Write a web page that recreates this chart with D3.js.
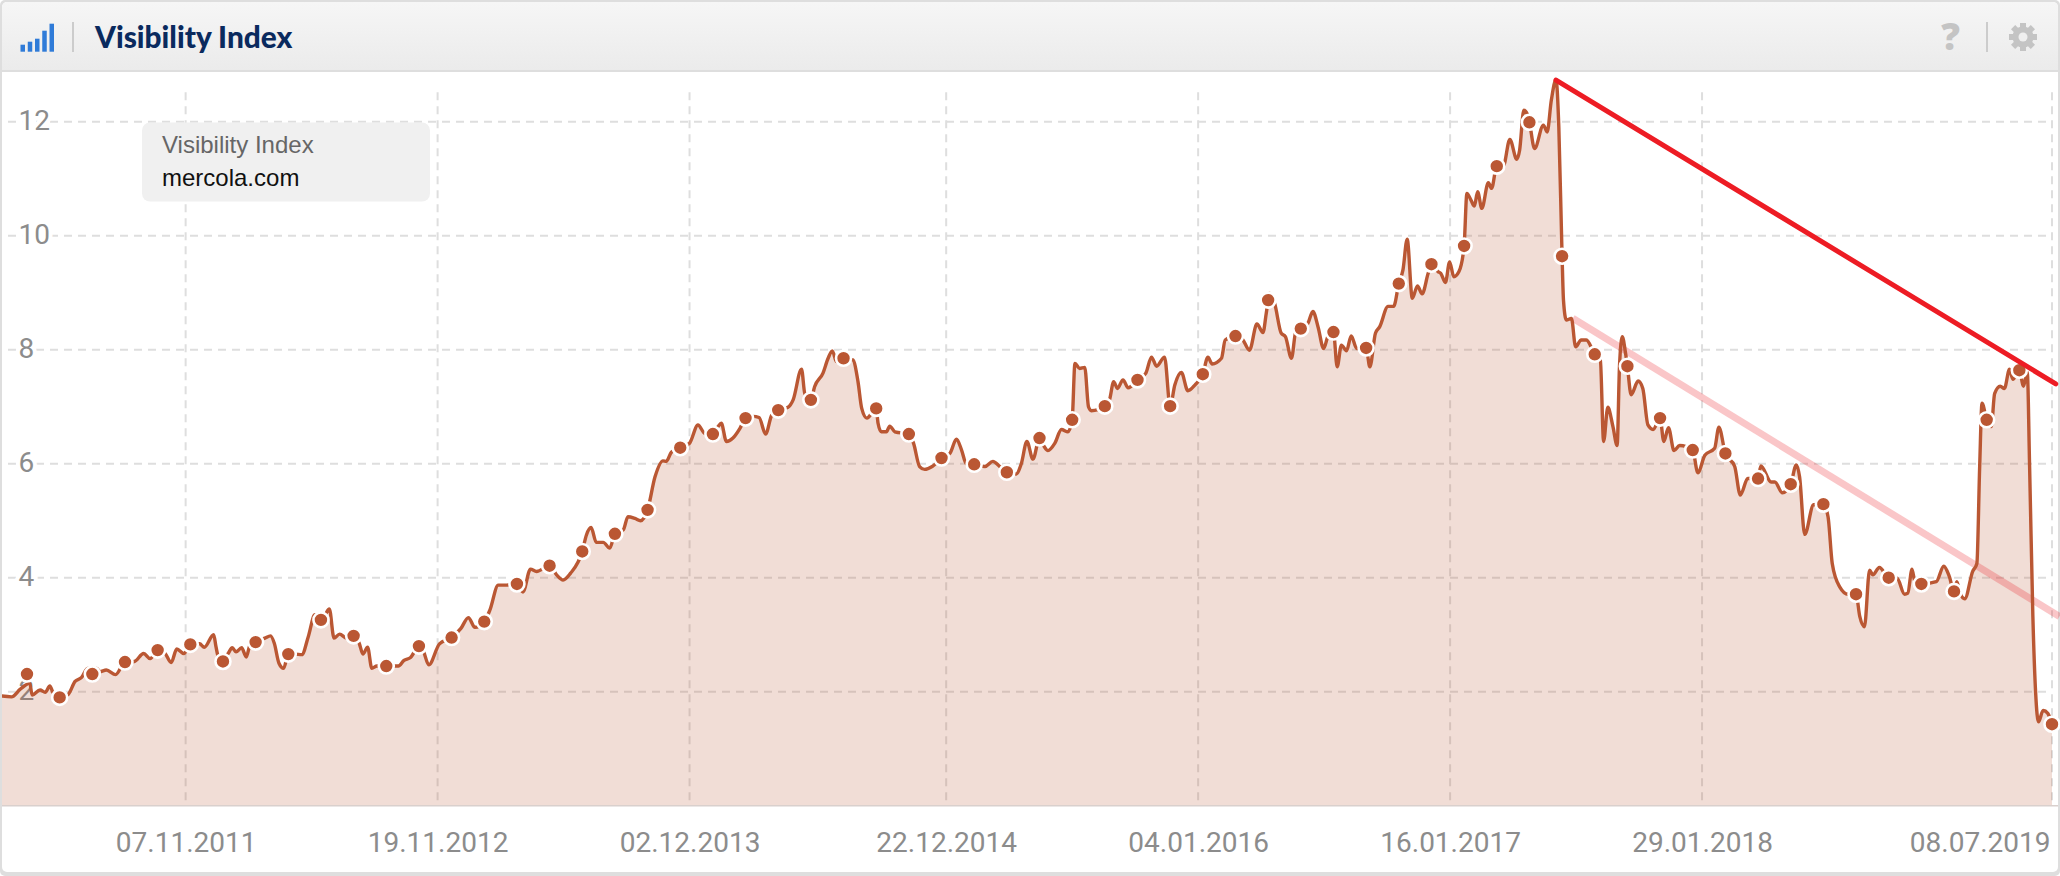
<!DOCTYPE html>
<html>
<head>
<meta charset="utf-8">
<title>Visibility Index</title>
<script src="https://cdn.jsdelivr.net/npm/d3@7"></script>
<style>
    html, body { margin: 0; padding: 0; background: #fff; }
    svg { display: block; }
</style>
</head>
<body>
<div id="chart"></div>
<script>
// weeks are counted from the first date tick (07.11.2011)
const startDate = new Date(2011, 10, 7);
const tickLabels = ["2011-11-07","2012-11-19","2013-12-02","2014-12-22","2016-01-04","2017-01-16","2018-01-29","2019-07-08"];
const yTicks = [2,4,6,8,10,12];

const lineWeeks = [-40,-37.3,-35.5,-34.6,-33.4,-32.9,-31.2,-30.1,-29.1,-28.4,-27,-25.2,-23.7,-22.3,-21,-19,-18.4,-17,-15,-13,-11,-9,-7.6,-6,-4.4,-3.1,-1.9,-0.4,1,3,4,6,6.5,7,8,9.1,10,10.8,12,13,13.8,15,17,18.2,19,20,21,22,23.4,24.9,26.3,27.7,29,29.9,30.8,31.8,33,34.5,36,37.2,38,39,39.9,41,43,45.6,46.8,48.2,50,51,52.1,54.4,57,59,60.6,62,64,65.2,67,68.8,71,
    72.3,73.9,75.2,78,79.5,80.9,82.5,85,85.9,86.9,88,89.5,90.9,92,93.8,94.8,96.3,97.5,99,100.6,102.3,103,104.1,106,108,109.8,111.3,113,114.1,114.8,115.9,117.3,118.8,120,121.6,122.9,124.3,125.6,127,129.1,130.2,132,132.7,134,134.8,136.6,137.7,138.6,139.5,141,143,144.1,144.9,146,148,148.4,149.1,150.2,150.9,152,155,156,157.3,158.4,160,162,163.8,165.2,166.3,167.3,169,171.3,173,174.5,176,178,179.1,180.3,181.6,183,
    184,184.8,186.3,187.7,189.1,190,190.6,191.6,192.7,193.5,194.1,197,198,198.9,199.7,200.9,202,204,205.8,207,208.1,209.8,211,212,213.4,214.8,216.3,218,219.1,220,222,222.8,225,226.6,228,229.6,230.9,231.6,232.3,233.4,234.8,235.7,237,238,239,240.5,241.6,242.7,243.9,244.8,246,246.8,247.7,248.8,249.8,251,253,253.8,255,255.9,257.7,258.9,260,260.9,261.8,262.9,264,265,266.3,267,268.4,269,270,270.9,271.8,272.9,274,
    274.6,275.5,276.2,276.9,277.8,279.2,279.9,281,282.4,283.8,285.3,285.9,286.8,287.5,288,289.1,291,291.8,292.7,293.7,294.3,295,295.3,295.9,297,297.9,299.1,300.2,302,303.2,303.9,304.8,305.9,306.8,307.3,307.9,308.6,309,309.8,311.3,312.3,313.4,314.5,316,316.8,317.8,319,320.2,323,324.1,325.6,327.7,328.6,330,332,333.2,334.8,337,337.6,339.8,340.6,342.2,344,345.2,345.9,347,348.9,351,352,352.9,354.5,356.3,358,358.8,359.8,360.9,361.6,363,365,366.8,368.4,369.1,370,370.7,372,375.2,376.8,378,379,379.6,380.3,381.3,383,383.9,384.5,385,386,387,387.7,388.9,389.8,390.9,391.6,393,393.9,394.7,395.2,395.9,396.5,397.1,398.1,399.1,400];
const lineValues = [1.93,1.91,2.04,2.10,2.15,1.94,2.03,1.99,2.10,1.98,1.90,1.95,2.18,2.25,2.41,2.41,2.35,2.38,2.30,2.52,2.53,2.67,2.58,2.73,2.67,2.51,2.75,2.67,2.83,2.84,2.78,3.0,2.79,2.61,2.53,2.67,2.77,2.70,2.77,2.61,2.82,2.87,2.94,2.98,2.85,2.5,2.41,2.66,2.66,2.65,2.97,3.35,3.26,3.35,3.45,2.94,3.01,2.94,2.98,2.85,2.66,2.78,2.41,2.45,2.45,2.45,2.55,2.60,2.80,2.70,2.47,2.84,2.95,3.11,3.30,3.13,3.23,3.43,3.87,3.87,3.89,
    3.75,4.15,4.11,4.21,4.05,3.96,4.08,4.46,4.75,4.88,4.62,4.62,4.52,4.77,4.84,5.07,5.04,5.0,5.19,5.77,6.05,6.04,6.2,6.28,6.36,6.68,6.53,6.52,6.65,6.71,6.39,6.45,6.62,6.80,6.83,6.81,6.52,6.85,6.94,6.99,7.12,7.66,7.23,7.12,7.35,7.59,7.85,7.98,7.79,7.85,7.82,7.44,6.97,6.8,6.97,6.71,6.56,6.56,6.66,6.56,6.52,6.36,5.95,5.90,5.95,6.10,6.18,6.43,6.24,6.0,5.99,5.95,6.04,5.95,5.85,5.82,6.0,6.39,6.08,6.45,
    6.3,6.23,6.36,6.6,6.56,6.77,7.76,7.67,7.69,7.0,6.93,7.01,7.12,7.44,7.32,7.47,7.33,7.47,7.59,7.87,7.71,7.87,7.01,7.38,7.6,7.28,7.38,7.57,7.87,7.75,7.85,8.17,8.24,8.17,7.99,8.45,8.30,8.64,8.99,8.81,8.29,8.23,7.85,8.35,8.37,8.46,8.67,8.40,8.02,8.23,8.31,7.70,8.08,7.98,8.24,8.02,8.03,7.70,8.29,8.40,8.76,8.76,9.16,9.40,9.94,8.90,9.12,8.98,9.34,9.50,9.37,9.34,9.18,9.54,9.28,9.37,9.82,
    10.74,10.62,10.52,10.77,10.48,10.93,10.83,11.22,11.22,11.69,11.34,11.5,12.2,12.14,11.99,11.53,11.94,11.82,12.38,12.74,11.91,9.64,8.87,8.52,8.55,8.05,8.17,8.17,7.92,7.82,6.39,6.99,6.65,6.32,7.7,8.23,7.94,7.71,7.21,7.45,7.32,6.68,6.60,6.80,6.39,6.63,6.23,6.32,6.24,5.84,6.15,6.27,6.64,6.18,5.95,5.45,5.74,5.74,5.96,5.68,5.68,5.49,5.64,5.98,5.77,4.76,5.28,5.29,5.07,4.25,3.84,3.71,3.71,3.32,3.14,4.13,4.05,4.18,4.0,3.99,3.71,3.73,4.15,3.90,3.89,3.93,4.2,4.02,3.76,3.93,3.73,3.63,4.11,4.25,5.95,7.06,6.77,6.65,7.23,7.36,7.32,7.66,7.48,7.64,7.36,7.61,5.95,3.32,1.97,1.47,1.67,1.62,1.43];

const dotWeeks = [-34,-27,-20,-13,-6,1,8,15,22,29,36,43,50,57,64,71,78,85,92,99,106,113,120,127,134,141,148,155,162,169,176,183,190,197,204,211,218,225,232,239,246,253,260,267,274,281,288,295,302,309,316,323,330,337,344,351,358,365,372,379,386,393,400];
const dotValues = [2.31,1.90,2.31,2.52,2.73,2.83,2.53,2.87,2.66,3.26,2.98,2.45,2.80,2.95,3.23,3.89,4.21,4.46,4.77,5.19,6.28,6.52,6.80,6.94,7.12,7.85,6.97,6.52,6.10,5.99,5.85,6.45,6.77,7.01,7.47,7.01,7.57,8.24,8.87,8.37,8.31,8.03,9.16,9.50,9.82,11.22,11.99,9.64,7.92,7.71,6.80,6.24,6.18,5.74,5.64,5.29,3.71,4.0,3.89,3.76,6.77,7.64,1.43];

// the two drawn trend lines
const trendWeeks = [293.7,400.8];
const trendValues = [12.73,7.40];
const paleTrendWeeks = [297.3,401.6];
const paleTrendValues = [8.55,3.32];

const signalBars = [7,10,13,21,28];

function weekToDate(w){
    return new Date(+startDate + w*7*86400000);
}

function getConfiguration(){
    let width = 2060;
    let height = 876;
    let plot = { left: 2, right: 2052, top: 93.2, bottom: 805.7 };
    let svg = d3.select("#chart")
                .append("svg")
                .attr("width", width)
                .attr("height", height);
    return { width, height, plot, svg };
}

function getScales(config){
    let { plot } = config;
    let xScale = d3.scaleTime()
        .domain([weekToDate(-40), weekToDate(400)])
        .range([-1, plot.right]);
    let yScale = d3.scaleLinear()
        .domain([0, 12.5])
        .range([plot.bottom, plot.top]);
    return { xScale, yScale };
}

function drawFrame(config){
    let { svg, width, height } = config;
    let grad = svg.append("defs").append("linearGradient")
        .attr("id", "headerFill")
        .attr("x1", 0).attr("x2", 0).attr("y1", 0).attr("y2", 1);
    grad.append("stop").attr("offset", "0%").attr("stop-color", "#f6f6f6");
    grad.append("stop").attr("offset", "100%").attr("stop-color", "#ebebeb");

    svg.append("rect").attr("width", width).attr("height", height).attr("rx", 5).attr("fill", "#dedede");
    svg.append("rect").attr("x", 2).attr("y", 2).attr("width", width-4).attr("height", height-6).attr("rx", 5).attr("fill", "#fff");
    svg.append("path")
        .attr("d", "M2,70V7a5,5 0 0 1 5,-5H2053a5,5 0 0 1 5,5V70Z")
        .attr("fill", "url(#headerFill)");
    svg.append("rect").attr("x", 2).attr("y", 70).attr("width", width-4).attr("height", 2).attr("fill", "#dedede");
}

function drawHeader(config){
    let { svg } = config;
    let barScale = d3.scaleBand().domain(d3.range(signalBars.length)).range([20.5, 54]).paddingInner(0.38);
    svg.append("g").selectAll("rect")
        .data(signalBars)
        .join("rect")
        .attr("x", (d,i) => barScale(i))
        .attr("y", d => 51.7-d)
        .attr("width", barScale.bandwidth())
        .attr("height", d => d)
        .attr("fill", "#2f7bd8");

    [73, 1987].forEach(x => {
        svg.append("rect").attr("x", x-1).attr("y", 22).attr("width", 2).attr("height", 30).attr("fill", "#cccccc");
    });

    svg.append("text")
        .attr("x", 95)
        .attr("y", 47.5)
        .text("Visibility Index")
        .style("font-family", "Lato")
        .style("font-weight", 900)
        .style("font-size", "29.8px")
        .style("fill", "#0a2a5e");

    svg.append("text")
        .attr("x", 1950.5)
        .attr("y", 50)
        .attr("text-anchor", "middle")
        .text("?")
        .style("font-family", "Open Sans")
        .style("font-weight", 800)
        .style("font-size", "37px")
        .style("fill", "#c4c4c4");

    let gear = svg.append("g").attr("transform", "translate(2023,37)");
    d3.range(8).forEach(i => {
        gear.append("rect")
            .attr("x", -3).attr("y", -14)
            .attr("width", 6).attr("height", 6)
            .attr("transform", "rotate("+(i*45)+")")
            .attr("fill", "#c4c4c4");
    });
    gear.append("circle").attr("r", 10.5).attr("fill", "#c4c4c4");
    gear.append("circle").attr("r", 4.5).attr("fill", "#efefef");
}

function drawChart(scales, config){
    let { svg, plot } = config;
    let { xScale, yScale } = scales;
    let tickDates = tickLabels.map(d => d3.timeParse("%Y-%m-%d")(d));

    let clip = svg.select("defs").append("clipPath").attr("id", "plotClip");
    clip.append("rect")
        .attr("x", plot.left).attr("y", plot.top-40)
        .attr("width", plot.right-plot.left).attr("height", plot.bottom-plot.top+40);

    // grid
    yTicks.forEach(t => {
        svg.append("line")
            .attr("x1", 8).attr("x2", plot.right)
            .attr("y1", yScale(t)).attr("y2", yScale(t))
            .style("stroke", "#dedede")
            .style("stroke-width", 2)
            .style("stroke-dasharray", "8,6");
    });
    tickDates.forEach(d => {
        svg.append("line")
            .attr("x1", xScale(d)).attr("x2", xScale(d))
            .attr("y1", plot.top-1).attr("y2", plot.bottom)
            .style("stroke", "#dedede")
            .style("stroke-width", 2)
            .style("stroke-dasharray", "8,6");
    });

    // axes
    let axisY = d3.axisRight(yScale).tickValues(yTicks).tickSize(0).tickPadding(0);
    let gy = svg.append("g").attr("transform", "translate(18.5,-1)").call(axisY);
    gy.select(".domain").remove();
    gy.selectAll("text")
        .style("font-family", "Roboto")
        .style("font-size", "28px")
        .style("fill", "#8c8c8c")
        .style("stroke", "#fff")
        .style("stroke-width", 8)
        .style("paint-order", "stroke");

    let axisX = d3.axisBottom(xScale)
        .tickValues(tickDates)
        .tickSize(0)
        .tickPadding(0)
        .tickFormat(d3.timeFormat("%d.%m.%Y"));
    let gx = svg.append("g").attr("transform", "translate(0,"+(plot.bottom+26)+")").call(axisX);
    gx.select(".domain").remove();
    gx.selectAll("text")
        .style("font-family", "Roboto")
        .style("font-size", "28px")
        .style("fill", "#8c8c8c");
    gx.selectAll("text").filter((d,i) => i == tickDates.length-1)
        .attr("text-anchor", "end")
        .attr("x", -2);

    // area and line
    let points = lineWeeks.map((w,i) => ({ date: weekToDate(w), value: lineValues[i] }));
    let area = d3.area()
        .x(d => xScale(d.date))
        .y0(plot.bottom)
        .y1(d => yScale(d.value))
        .curve(d3.curveMonotoneX);
    let line = d3.line()
        .x(d => xScale(d.date))
        .y(d => yScale(d.value))
        .curve(d3.curveMonotoneX);

    svg.append("path")
        .datum(points)
        .attr("clip-path", "url(#plotClip)")
        .attr("d", area)
        .attr("fill", "rgba(186,87,51,0.2)");

    svg.append("line")
        .attr("x1", plot.left).attr("x2", 2058)
        .attr("y1", plot.bottom).attr("y2", plot.bottom)
        .style("stroke", "#d9d0cd")
        .style("stroke-width", 1.5);

    svg.append("line")
        .attr("x1", xScale(weekToDate(paleTrendWeeks[0])))
        .attr("y1", yScale(paleTrendValues[0]))
        .attr("x2", xScale(weekToDate(paleTrendWeeks[1])))
        .attr("y2", yScale(paleTrendValues[1]))
        .style("stroke", "rgba(237,28,36,0.25)")
        .style("stroke-width", 7);

    svg.append("path")
        .datum(points)
        .attr("clip-path", "url(#plotClip)")
        .attr("d", line)
        .attr("fill", "none")
        .style("stroke", "#ba5733")
        .style("stroke-width", 3.4)
        .style("stroke-linejoin", "round");

    svg.append("g").selectAll("circle")
        .data(dotWeeks)
        .join("circle")
        .attr("cx", d => xScale(weekToDate(d)))
        .attr("cy", (d,i) => yScale(dotValues[i]))
        .attr("r", 7.5)
        .attr("fill", "#ba5733")
        .style("stroke", "#fff")
        .style("stroke-width", 2.6);

    svg.append("line")
        .attr("x1", xScale(weekToDate(trendWeeks[0])))
        .attr("y1", yScale(trendValues[0]))
        .attr("x2", xScale(weekToDate(trendWeeks[1])))
        .attr("y2", yScale(trendValues[1]))
        .style("stroke", "#ed1c24")
        .style("stroke-width", 5)
        .style("stroke-linecap", "round");
}

function drawTooltip(config){
    let { svg } = config;
    svg.append("rect")
        .attr("x", 142).attr("y", 122.5)
        .attr("width", 288).attr("height", 79)
        .attr("rx", 8)
        .attr("fill", "#f0f0f0");
    svg.append("text")
        .attr("x", 162).attr("y", 153)
        .text("Visibility Index")
        .style("font-family", "Liberation Sans")
        .style("font-size", "24px")
        .style("fill", "#666");
    svg.append("text")
        .attr("x", 162).attr("y", 186)
        .text("mercola.com")
        .style("font-family", "Liberation Sans")
        .style("font-size", "24px")
        .style("fill", "#111");
}

let config = getConfiguration();
let scales = getScales(config);
drawFrame(config);
drawHeader(config);
drawChart(scales, config);
drawTooltip(config);
</script>
</body>
</html>
